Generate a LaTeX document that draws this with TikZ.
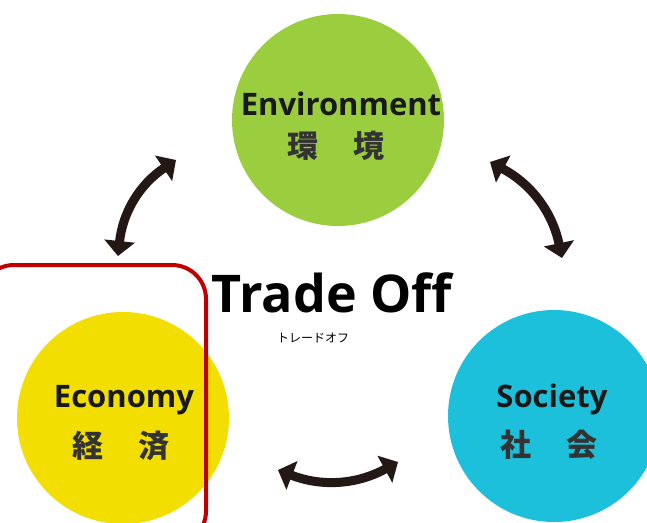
\documentclass[tikz,border=0pt]{standalone}
\usepackage{fontspec}
\setmainfont{Open Sans}
\newfontfamily\jpfont{Noto Sans CJK JP}
\usetikzlibrary{arrows.meta}
\definecolor{envgreen}{RGB}{155,206,62}
\definecolor{ecoyellow}{RGB}{242,222,0}
\definecolor{soccyan}{RGB}{28,192,218}
\definecolor{boxred}{RGB}{192,0,0}
\definecolor{arrowblack}{RGB}{35,24,21}
\tikzset{
  topic/.style={circle, minimum size=212pt, inner sep=0pt},
  entext/.style={font=\bfseries\fontsize{31}{34}\selectfont, text=black!90},
  jptext/.style={font=\jpfont\bfseries\fontsize{31}{33}\selectfont, text=black!80},
  twoway/.style={arrowblack, line width=9pt, {Triangle[width=30pt,length=15pt]}-{Triangle[width=30pt,length=15pt]}}
}
\begin{document}
\begin{tikzpicture}[x=1pt,y=-1pt]
\useasboundingbox (0,0) rectangle (647,522);
\begin{scope}
\clip (0,0) rectangle (647,522);
\node[topic, fill=envgreen] (env) at (338,120) {};
\node[topic, fill=ecoyellow] (eco) at (123,418) {};
\node[topic, fill=soccyan] (soc) at (554,416) {};
\draw[boxred, line width=4pt, rounded corners=34pt] (-20,265) rectangle (206,545);
\end{scope}
\node[entext] (envname) at (341,104) {Environment};
\node[jptext] (envjp) at (336,146) {環\hspace{1.15em}境};
\node[entext] (econame) at (124,400) {Economy};
\node[jptext] (ecojp) at (121,446) {経\hspace{1.15em}済};
\node[entext] (socname) at (552,399) {Society};
\node[jptext] (socjp) at (549,445) {社\hspace{1.15em}会};
\node[font=\bfseries\fontsize{52}{56}\selectfont] (trade) at (332,293) {Trade Off};
\node[font=\jpfont\fontsize{12}{13}\selectfont] (tradejp) at (313,338) {トレードオフ};
\coordinate (l1) at (118,256);
\coordinate (l2) at (176,160);
\coordinate (r1) at (490,162);
\coordinate (r2) at (562,258);
\coordinate (b1) at (278,470);
\coordinate (b2) at (398,462);
\draw[twoway] (l1) to[bend left=25] (l2);
\draw[twoway] (r1) to[bend left=25] (r2);
\draw[twoway] (b1) to[bend right=25] (b2);
\end{tikzpicture}
\end{document}
